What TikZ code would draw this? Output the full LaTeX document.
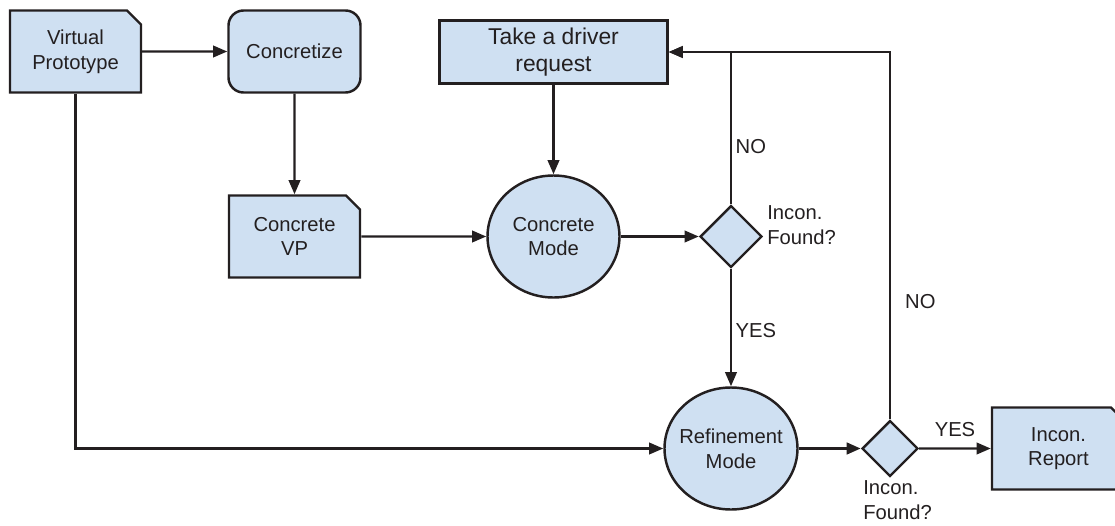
\documentclass[tikz,border=0pt]{standalone}
\usepackage{fontspec}
\setmainfont{Liberation Sans}
\usepackage{xcolor}
\usepackage{tikz}
\usetikzlibrary{shapes.geometric, shapes.misc, arrows.meta, positioning, calc}
\definecolor{stepblue}{HTML}{CFE0F2}
\definecolor{inkgray}{HTML}{231F20}

\tikzset{
  base/.style={draw=inkgray, fill=stepblue, line width=1.4pt, align=center,
    text=inkgray, font=\fontsize{11.5}{14}\selectfont, inner sep=2pt},
  docbox/.style={base, chamfered rectangle, chamfered rectangle corners=north east,
    chamfered rectangle xsep=0.14cm, chamfered rectangle ysep=0.14cm,
    minimum width=2.62cm, minimum height=1.64cm},
  taskbox/.style={base, rectangle, rounded corners=0.3cm, minimum width=2.64cm, minimum height=1.64cm},
  inputbox/.style={base, rectangle, minimum width=4.56cm, minimum height=1.26cm,
    font=\fontsize{13}{15.5}\selectfont},
  modeball/.style={base, ellipse, inner sep=-3pt, minimum width=2.64cm, minimum height=2.44cm},
  choice/.style={base, diamond, inner sep=0pt, minimum size=#1},
  flow/.style={draw=inkgray, line width=1.3pt, -{Triangle[length=8pt,width=6.5pt]}},
  note/.style={text=inkgray, font=\fontsize{11.5}{14}\selectfont, align=left, inner sep=0pt}
}

\begin{document}
\begin{tikzpicture}
  \useasboundingbox (0,0) rectangle (22.3,-10.5);

  % Boxes along the top row
  \node[docbox] (vp) at (1.51,-1.03) {Virtual\\Prototype};
  \node[taskbox] (concretize) at (5.89,-1.03) {Concretize};
  \node[inputbox] (request) at (11.07,-1.04) {Take a driver\\request};

  % Concrete pass
  \node[docbox] (cvp) at (5.89,-4.73) {Concrete\\VP};
  \node[modeball] (cmode) at (11.07,-4.73) {Concrete\\Mode};
  \node[choice=1.24cm] (check1) at (14.62,-4.73) {};

  % Refinement pass
  \node[modeball, minimum width=2.66cm] (rmode) at (14.62,-8.97) {Refinement\\Mode};
  \node[choice=1.12cm] (check2) at (17.8,-8.97) {};
  \node[docbox, minimum width=2.66cm] (report) at (21.17,-8.97) {Incon.\\Report};

  % Decision labels
  \node[note, anchor=west] (q1) at (15.34,-4.5) {Incon.\\Found?};
  \node[note, anchor=west] (q2) at (17.26,-10.0) {Incon.\\Found?};

  % Connectors
  \draw[flow] (vp) -- (concretize);
  \draw[flow] (concretize) -- (cvp);
  \draw[flow] (cvp) -- (cmode);
  \draw[flow] (request) -- (cmode);
  \draw[flow] (cmode) -- (check1);
  \draw[flow] (check1.north) |- (request.east)
    node[note, pos=0.19, anchor=west, xshift=2pt] {NO};
  \draw[flow] (check1.south) -- (rmode.north)
    node[note, midway, anchor=west, xshift=2pt, yshift=-2pt] {YES};
  \draw[flow] (vp.south) |- (rmode.west);
  \draw[flow, line width=1.7pt] (rmode) -- (check2);
  \draw[flow] (check2.north) |- (request.east)
    node[note, pos=0.16, anchor=west, xshift=8pt] {NO};
  \draw[flow] (check2) -- (report)
    node[note, midway, above=6pt] {YES};
\end{tikzpicture}
\end{document}
